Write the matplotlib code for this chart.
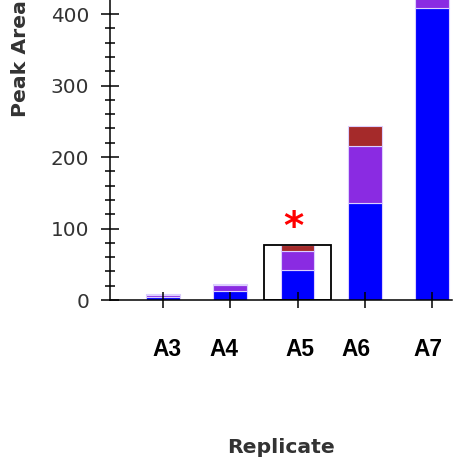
import numpy as np
import matplotlib.pyplot as plt
from matplotlib import font_manager as fm
from matplotlib import transforms
from matplotlib.patches import Rectangle
from matplotlib.ticker import MultipleLocator

# dados
replicates = ["A3", "A4", "A5", "A6", "A7"]
blue_vals = [4, 12, 42, 136, 408]
purple_vals = [3, 9, 27, 80, 45]
red_vals = [1, 2, 8, 27, 25]
highlight = "A5"

x = np.arange(len(replicates))
blue_vals = np.array(blue_vals)
purple_vals = np.array(purple_vals)
red_vals = np.array(red_vals)
totals = blue_vals + purple_vals + red_vals

# Liberation Sans Bold (sem a versão Narrow)
bold_files = [f for f in fm.fontManager.ttflist
              if f.name.startswith("Liberation Sans") and f.weight in (700, "bold")
              and "arrow" not in f.fname and f.style == "normal"]
if bold_files:
    tick_font = fm.FontProperties(fname=bold_files[0].fname, size=16.3)
else:
    tick_font = fm.FontProperties(family="DejaVu Sans", weight="bold", size=15)

fig = plt.figure(figsize=(4.62, 4.76), dpi=100)
ax = fig.add_axes([110 / 462, 176 / 476, 342 / 462, 300 / 476])

# barras empilhadas
edge = dict(edgecolor="#dccfff", linewidth=0.8, width=0.5)
ax.bar(x, blue_vals, color="#0000ff", **edge)
ax.bar(x, purple_vals, bottom=blue_vals, color="#8a2be2", **edge)
ax.bar(x, red_vals, bottom=blue_vals + purple_vals, color="#a52a2a", **edge)

# caixa de destaque + asterisco
i = replicates.index(highlight)
ax.add_patch(Rectangle((i - 0.5, 0), 1.0, totals[i], fill=False,
                       edgecolor="black", linewidth=1.3, zorder=3))
ax.annotate("*", xy=(i, totals[i]), xytext=(-3, 12.5), textcoords="offset points",
            ha="center", va="center", color="red", fontsize=28,
            fontweight="bold", family="DejaVu Sans")

ax.set_xlim(-0.788, 4.297)
ax.set_ylim(0, 419.6)

# eixos
for s in ["top", "right"]:
    ax.spines[s].set_visible(False)
ax.spines["left"].set_linewidth(1.1)
ax.spines["bottom"].set_linewidth(1.1)

ax.yaxis.set_major_locator(MultipleLocator(100))
ax.yaxis.set_minor_locator(MultipleLocator(20))
ax.tick_params(axis="y", which="major", direction="inout", length=13, width=1.1,
               pad=8.6, labelsize=14.4, labelcolor="#333333")
ax.tick_params(axis="y", which="minor", direction="inout", length=6.5, width=1.1)
for lab in ax.get_yticklabels():
    lab.set_family("DejaVu Sans")

ax.set_xticks(x)
ax.set_xticklabels(replicates, fontproperties=tick_font)
ax.tick_params(axis="x", direction="inout", length=11, width=1.1, pad=22)

# os rótulos do original não ficam bem centrados nos ticks
label_shift_px = [4.5, -6, 2, -9, -4]
for lab, dx in zip(ax.get_xticklabels(), label_shift_px):
    lab.set_transform(lab.get_transform() +
                      transforms.ScaledTranslation(dx / 100, 0, fig.dpi_scale_trans))

ax.set_ylabel("Peak Area", fontsize=14.7, fontweight="bold", color="#333333",
              family="DejaVu Sans", va="center")
ax.yaxis.set_label_coords(-0.262, 0.805)
ax.set_xlabel("Replicate", fontsize=14.7, fontweight="bold", color="#333333",
              family="DejaVu Sans", va="center")
ax.xaxis.set_label_coords(0.5, -0.493)

fig.savefig("out.png", dpi=100)
